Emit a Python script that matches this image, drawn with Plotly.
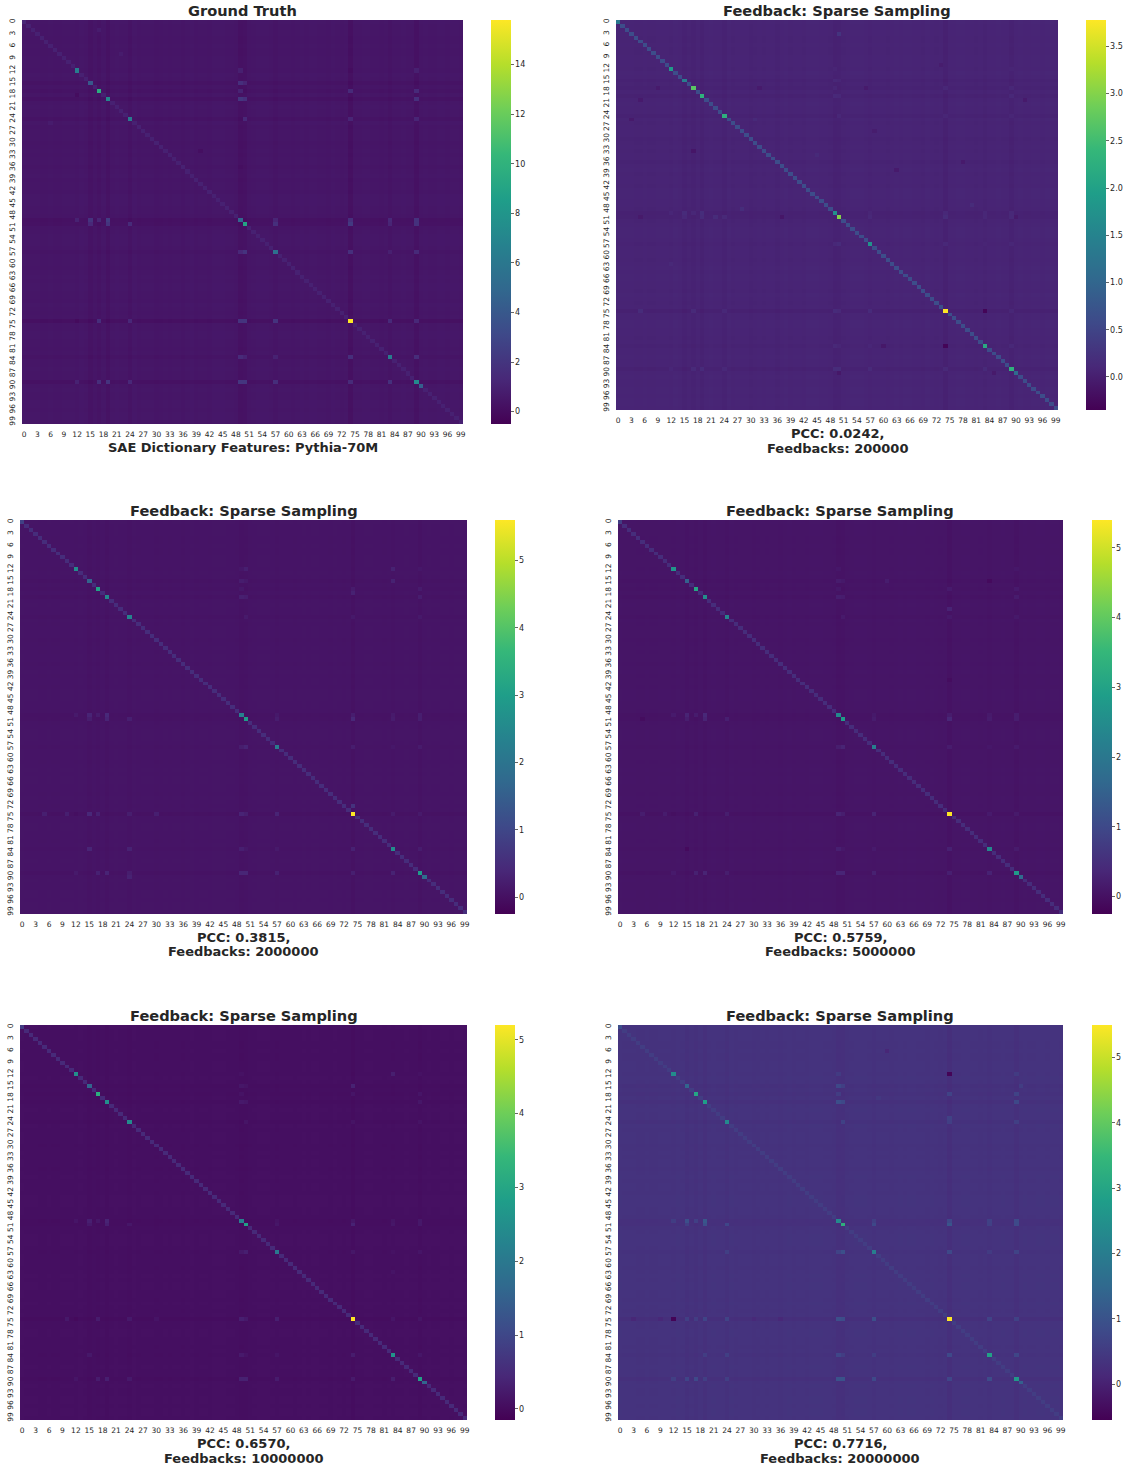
import plotly.graph_objects as go

W, H = 1129, 1469
ML, MR, MT, MB = 0, 4, 3, 3
TICKS = list(range(0, 100, 3))
N = 100

TITLES = ["Ground Truth"] + ["Feedback: Sparse Sampling"] * 5
CAPTIONS = [
    ["SAE Dictionary Features: Pythia-70M"],
    ["PCC: 0.0242,", "Feedbacks: 200000"],
    ["PCC: 0.3815,", "Feedbacks: 2000000"],
    ["PCC: 0.5759,", "Feedbacks: 5000000"],
    ["PCC: 0.6570,", "Feedbacks: 10000000"],
    ["PCC: 0.7716,", "Feedbacks: 20000000"],
]

# value range of each colour bar
Z_MIN = [-0.5, -0.35, -0.25, -0.25, -0.15, -0.55]
Z_MAX = [15.8, 3.78, 5.6, 5.4, 5.2, 5.5]
CB_TICKS = [
    [0, 2, 4, 6, 8, 10, 12, 14],
    [0, 0.5, 1, 1.5, 2, 2.5, 3, 3.5],
    [0, 1, 2, 3, 4, 5],
    [0, 1, 2, 3, 4, 5],
    [0, 1, 2, 3, 4, 5],
    [0, 1, 2, 3, 4, 5],
]
CB_FORMAT = ["d", ".1f", "d", "d", "d", "d"]

# background level, ordinary diagonal level
BASE = [0.42, 0.05, 0.06, 0.06, 0.06, 0.32]
DIAG = [1.0, 0.62, 0.5, 0.48, 0.48, 0.55]

# bright diagonal cells
PEAK_IDX = [0, 12, 15, 17, 19, 24, 49, 50, 57, 74, 83, 89, 90]
PEAKS = [
    [1.2, 6.4, 4.0, 9.6, 7.0, 6.2, 4.8, 9.0, 5.4, 15.8, 6.4, 7.2, 4.4],
    [1.3, 1.9, 1.4, 2.7, 2.3, 2.25, 1.7, 3.0, 1.75, 3.78, 2.15, 2.3, 1.1],
    [0.9, 2.6, 1.6, 3.1, 2.5, 2.4, 2.3, 3.0, 2.2, 5.6, 2.6, 2.9, 1.8],
    [0.8, 2.7, 1.5, 3.1, 2.5, 2.3, 2.4, 2.9, 2.2, 5.4, 2.4, 2.8, 1.7],
    [0.8, 2.5, 1.6, 3.2, 2.5, 2.4, 2.2, 2.9, 2.0, 5.2, 2.6, 2.9, 1.6],
    [0.9, 2.4, 1.4, 3.0, 2.8, 2.3, 2.3, 3.3, 2.0, 5.5, 2.9, 2.7, 1.3],
]

# rows and columns that carry a dark stripe, with the panel's depth
STRIPE_IDX = [15, 17, 19, 24, 49, 50, 57, 74, 83, 89]
STRIPE_TONE = [0.5, 0.4, 0.6, 0.4, 0.9, 0.7, 0.3, 1.0, 0.4, 0.8]
STRIPE_DEPTH = [0.2, 0.02, 0.025, 0.03, 0.02, 0.05]

# lighter cells where two of the bright features cross
CROSS_A = [15, 15, 17, 17, 17, 19, 19, 19, 24, 24, 24, 49, 49, 49, 49, 50, 50, 50, 57, 57, 57, 74, 74, 74, 83, 83, 12, 12, 12]
CROSS_B = [49, 50, 49, 74, 89, 49, 50, 89, 50, 74, 89, 57, 74, 83, 89, 57, 74, 89, 74, 83, 89, 50, 83, 89, 89, 50, 74, 49, 89]
CROSS_TONE = [1.0, 0.6, 0.5, 0.8, 0.8, 1.3, 1.0, 1.0, 0.7, 0.6, 0.6, 0.6, 1.0, 0.7, 1.1, 1.0, 1.0, 1.1, 1.0, 0.4, 0.8, 1.2, 0.8, 0.7, 0.9, 0.5, -0.3, 0.4, 0.4]
CROSS_SCALE = [1.5, 0.1, 0.28, 0.25, 0.25, 0.6]
UPPER_SCALE = [0.85, 0.6, 0.55, 0.5, 0.5, 0.75]

# faint row and column shading, hand
BAND_TONE = [
    2, 1, 1, 1, 0, 0, 1, 0, 0, 1, 1, 1, 0, 2, 1, -1, 0, -1, 1, -1,
    1, 2, 1, 1, -1, 2, 0, 1, 1, 1, -1, 0, 1, 0, 1, 1, -1, 1, 2, 0,
    1, 1, 0, 2, 2, 2, 1, 1, 0, -1, -1, 0, 1, 2, 2, 2, 1, 0, 1, 1,
    1, 0, 1, 2, 1, 2, 2, 1, 1, 0, 2, 1, 0, 1, -2, 1, 1, 2, 2, 1,
    1, 0, 1, 0, 1, 1, 2, 1, 1, -1, 1, 2, 1, 1, 2, 2, 1, 2, 2, 1,
]
BAND_SCALE = [0.03, 0.008, 0.006, 0.006, 0.005, 0.01]

# isolated cells that stand out: rows, columns and values for each panel
SPOT_ROWS = [
    [2, 8, 18, 25, 32, 36],
    [3, 17, 20, 25, 28, 33, 36, 38, 50, 50, 50, 74, 83, 83, 74, 50, 90, 90, 62, 47, 20, 25, 17, 17, 11, 48, 34],
    [72, 74, 74, 74, 74, 18, 15, 12, 12, 83, 83, 90],
    [15, 50, 74, 74, 83, 15, 22, 83, 40],
    [12, 74, 74, 15, 50, 62, 83],
    [6, 12, 74, 74, 74, 74, 15, 23, 18, 74, 74, 74, 74, 89, 89, 89, 89, 50, 83, 83, 57],
]
SPOT_COLS = [
    [17, 22, 12, 6, 40, 49],
    [50, 9, 5, 3, 58, 17, 78, 63, 22, 5, 37, 83, 74, 60, 5, 90, 50, 85, 12, 80, 92, 31, 32, 56, 73, 28, 45],
    [74, 5, 10, 15, 30, 74, 83, 83, 50, 15, 24, 24],
    [83, 5, 5, 10, 15, 60, 74, 74, 74],
    [83, 10, 30, 74, 24, 83, 15],
    [60, 74, 3, 9, 30, 36, 90, 74, 58, 12, 15, 17, 19, 12, 15, 19, 24, 15, 24, 19, 24],
]
SPOT_VALUES = [
    [0.75, 0.75, 0.05, 0.75, 0.15, 0.1],
    [0.28, -0.05, -0.05, -0.06, -0.02, -0.1, -0.05, -0.05, 0.16, -0.06, -0.1, -0.3, -0.3, -0.08, 0.16, -0.06, -0.08, -0.06, 0.12, 0.16, -0.05, 0.14, -0.05, -0.05, -0.02, 0.18, 0.14],
    [0.6, 0.25, 0.25, 0.4, 0.25, 0.3, 0.3, 0.3, 0.25, 0.35, 0.3, 0.3],
    [-0.1, -0.05, 0.2, 0.18, -0.1, 0.2, 0.3, 0.25, -0.05],
    [0.3, 0.22, 0.14, 0.35, 0.18, 0.14, 0.2],
    [0.1, -0.5, 0.1, 0.12, 0.15, 0.12, 0.55, 0.65, 0.45, -0.5, 0.6, 0.55, 0.7, 0.6, 0.7, 0.6, 0.6, 0.6, 0.6, 0.55, 0.6],
]

# pixel boxes: heatmap left, right, top, bottom; colour bar left, right
BOXES = [
    (22, 463, 20, 424, 491, 511),
    (616, 1058, 20, 410, 1086, 1106),
    (20, 467, 520, 914, 495, 515),
    (618, 1063, 520, 914, 1092, 1112),
    (20, 467, 1025, 1420, 495, 515),
    (618, 1063, 1025, 1420, 1092, 1112),
]
TEXT = "#262626"
FONT = "DejaVu Sans"


def fx(px):
    return (px - ML) / (W - ML - MR)


def fy(px):
    return 1 - (px - MT) / (H - MT - MB)


def build(p):
    tone = [BAND_SCALE[p] * b for b in BAND_TONE]
    for i, t in zip(STRIPE_IDX, STRIPE_TONE):
        tone[i] -= STRIPE_DEPTH[p] * t
    z = [[BASE[p] + tone[r] + tone[c] for c in range(N)] for r in range(N)]
    for a, b, t in zip(CROSS_A, CROSS_B, CROSS_TONE):
        z[b][a] = BASE[p] + CROSS_SCALE[p] * t
        z[a][b] = BASE[p] + CROSS_SCALE[p] * t * UPPER_SCALE[p]
    for r, c, v in zip(SPOT_ROWS[p], SPOT_COLS[p], SPOT_VALUES[p]):
        z[r][c] = v
    for i in range(N):
        z[i][i] = DIAG[p]
    for i, v in zip(PEAK_IDX, PEAKS[p]):
        z[i][i] = v
    return z


fig = go.Figure()
annotations = []
for p, (x0, x1, y0, y1, c0, c1) in enumerate(BOXES):
    suffix = "" if p == 0 else str(p + 1)
    fig.add_trace(go.Heatmap(
        z=build(p), x=list(range(N)), y=list(range(N)),
        colorscale="Viridis", zmin=Z_MIN[p], zmax=Z_MAX[p],
        xaxis="x" + suffix, yaxis="y" + suffix,
        colorbar=dict(
            x=fx(c0), xanchor="left", xref="paper",
            y=fy(y1), yanchor="bottom", yref="paper",
            len=y1 - y0, lenmode="pixels",
            thickness=c1 - c0, thicknessmode="pixels",
            outlinewidth=0, xpad=0, ypad=0,
            ticks="outside", ticklen=3, tickwidth=1, tickcolor="#666666",
            tickvals=CB_TICKS[p], tickformat=CB_FORMAT[p],
            tickfont=dict(family=FONT, size=8, color=TEXT),
        ),
    ))
    fig.update_layout({
        "xaxis" + suffix: dict(
            domain=[fx(x0), fx(x1)], anchor="y" + suffix, range=[-0.5, 99.5],
            tickvals=TICKS, ticktext=[str(t) for t in TICKS], tickangle=0,
            ticks="", showgrid=False, zeroline=False, showline=False, ticklabelstandoff=4,
            tickfont=dict(family=FONT, size=7.5, color=TEXT),
        ),
        "yaxis" + suffix: dict(
            domain=[fy(y1), fy(y0)], anchor="x" + suffix, range=[99.5, -0.5],
            tickvals=TICKS, ticktext=[str(t) for t in TICKS], tickangle=-90,
            ticks="", showgrid=False, zeroline=False, showline=False, ticklabelstandoff=5,
            tickfont=dict(family=FONT, size=7.5, color=TEXT),
        ),
    })
    mid = fx((x0 + x1) / 2)
    annotations.append(dict(
        text="<b>%s</b>" % TITLES[p], x=mid, y=fy(y0 - 10), xref="paper", yref="paper",
        xanchor="center", yanchor="middle", showarrow=False,
        font=dict(family=FONT, size=14.6, color=TEXT),
    ))
    for k, line in enumerate(CAPTIONS[p]):
        annotations.append(dict(
            text="<b>%s</b>" % line, x=mid, y=fy(y1 + 23 + 15 * k),
            xref="paper", yref="paper", xanchor="center", yanchor="middle", showarrow=False,
            font=dict(family=FONT, size=13, color=TEXT),
        ))

fig.update_layout(
    width=W, height=H, autosize=False,
    margin=dict(l=ML, r=MR, t=MT, b=MB),
    paper_bgcolor="white", plot_bgcolor="white",
    annotations=annotations,
)
fig.write_html("out.html", post_script="document.body.style.margin='0';", config={"displayModeBar": False})
